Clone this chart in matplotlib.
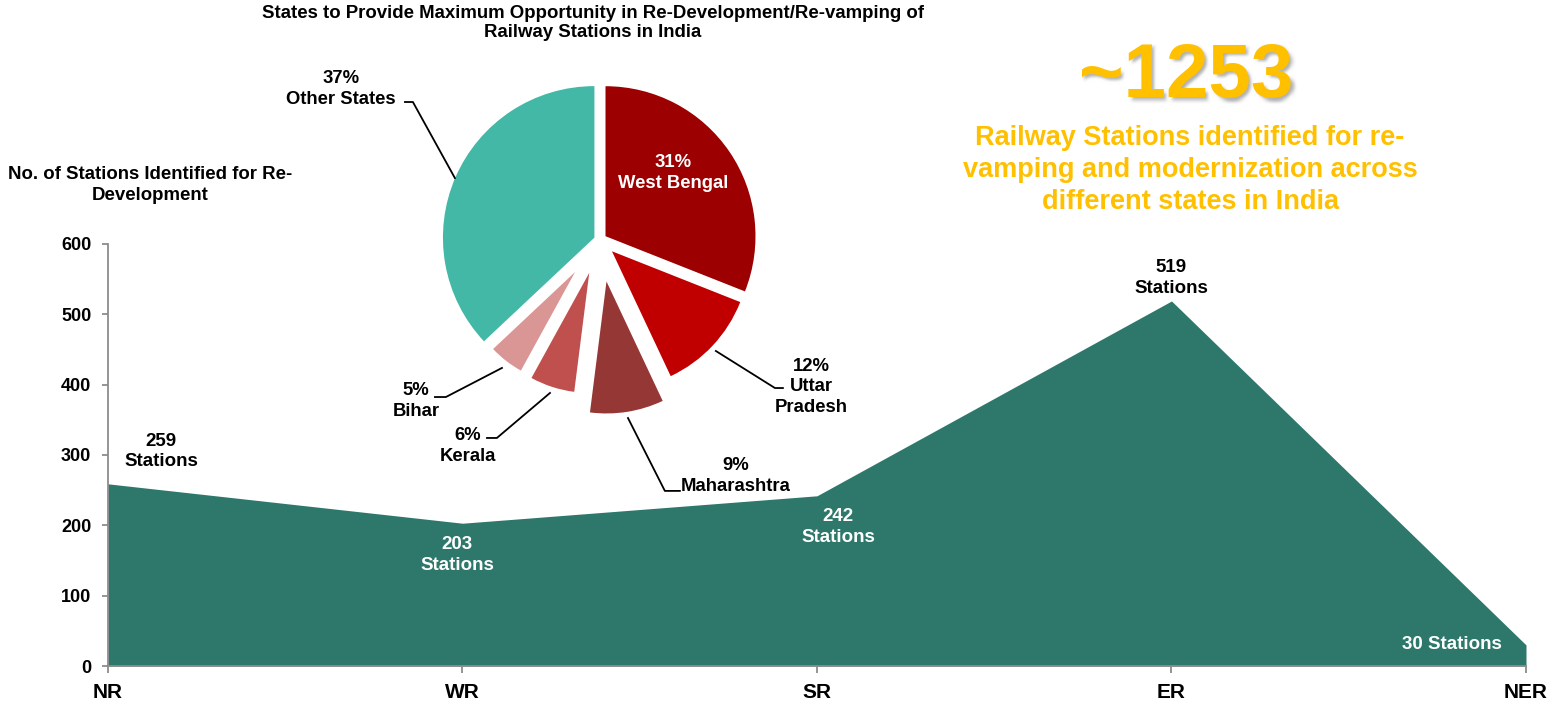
import numpy as np
import matplotlib
matplotlib.use("Agg")
import matplotlib.pyplot as plt

plt.rcParams["font.family"] = ["Liberation Sans", "DejaVu Sans"]
plt.rcParams["font.weight"] = "bold"

# zone-wise station counts
zones = ["NR", "WR", "SR", "ER", "NER"]
stations = [259, 203, 242, 519, 30]
y_ticks = [0, 100, 200, 300, 400, 500, 600]

# state share of stations (%)
states = ["West Bengal", "Uttar\nPradesh", "Maharashtra", "Kerala", "Bihar", "Other States"]
shares = [31, 12, 9, 6, 5, 37]
pie_colors = ["#9C0000", "#C00000", "#953735", "#C0504D", "#D99694", "#43B8A6"]

total = sum(stations)

AREA = "#2D786B"
GOLD = "#FFC000"
GREY = "#8C8C8C"


def soft_shadow(im, dpi):
    """blur the rendered text and push it down-right"""
    pad = 10
    a = np.pad(im, ((pad, pad), (pad, pad), (0, 0)), mode="constant")
    r = np.arange(-6, 7)
    k = np.exp(-r ** 2 / (2 * 1.8 ** 2))
    k /= k.sum()
    a = np.apply_along_axis(lambda m: np.convolve(m, k, mode="same"), 0, a)
    a = np.apply_along_axis(lambda m: np.convolve(m, k, mode="same"), 1, a)
    a[..., 3] *= 0.55
    return a, -pad + 3, -pad - 3


fig = plt.figure(figsize=(15.51, 7.07), dpi=100)

# ---- area chart ----
ax = fig.add_axes([0.06963, 0.05799, 0.91425, 0.5969])
x = np.arange(len(zones))
ax.fill_between(x, stations, 0, color=AREA, linewidth=0)
ax.set_xlim(0, len(zones) - 1)
ax.set_ylim(0, 600)
ax.set_xticks(x)
ax.set_xticklabels(zones, fontsize=15, fontweight="bold")
ax.set_yticks(y_ticks)
ax.set_yticklabels([str(t) for t in y_ticks], fontsize=13, fontweight="bold")
for s in ["top", "right"]:
    ax.spines[s].set_visible(False)
for s in ["left", "bottom"]:
    ax.spines[s].set_color(GREY)
    ax.spines[s].set_linewidth(1.3)
ax.tick_params(axis="x", colors=GREY, length=5, width=1.3, pad=7, labelcolor="black")
ax.tick_params(axis="y", colors=GREY, length=4, width=1.3, pad=8, labelcolor="black")
ax.set_facecolor("none")

# value labels: (x position, vertical offset, colour)
lab_pos = [(0.15, 46, "black"), (0.985, -45, "white"), (2.06, -44, "white"),
           (3.0, 33, "black"), (3.79, 0, "white")]
for (lx, dy, c), v in zip(lab_pos, stations):
    txt = f"{v}\nStations" if v > 100 else f"{v} Stations"
    ax.text(lx, v + dy, txt, ha="center", va="center", fontsize=13.5,
            fontweight="bold", color=c, linespacing=1.3)

# axis caption
fig.text(150 / 1551, 1 - 185 / 707, "No. of Stations Identified for Re-\nDevelopment",
         ha="center", va="center", fontsize=13.4, fontweight="bold", linespacing=1.25)

# ---- pie ----
pax = fig.add_axes([0.1934, 0.2362, 0.3868, 0.8487])
explode = [0.045, 0.11, 0.28, 0.23, 0.27, 0.04]
radii = [1.0, 0.92, 0.88, 0.80, 0.75, 1.01]
wedges, _ = pax.pie(shares, colors=pie_colors, startangle=90, counterclock=False,
                    explode=explode, wedgeprops=dict(linewidth=0))
for w, r in zip(wedges, radii):
    w.set_radius(r)
pax.set_xlim(-2, 2)
pax.set_ylim(-2, 2)
pax.set_aspect("equal")
pax.axis("off")

# label text position and leader line for each slice
pie_labels = {
    "West Bengal": ((0.487, 0.447), None, "white"),
    "Uttar\nPradesh": ((1.407, -0.98), [(0.773, -0.74), (1.167, -0.987), (1.22, -0.987)], "black"),
    "Maharashtra": ((0.907, -1.573), [(0.187, -1.187), (0.433, -1.673), (0.533, -1.673)], "black"),
    "Kerala": ((-0.88, -1.373), [(-0.333, -1.02), (-0.687, -1.32), (-0.753, -1.32)], "black"),
    "Bihar": ((-1.227, -1.073), [(-0.653, -0.853), (-1.027, -1.047), (-1.1, -1.047)], "black"),
    "Other States": ((-1.727, 1.007), [(-0.967, 0.413), (-1.247, 0.92), (-1.30, 0.92)], "black"),
}
for name, pct in zip(states, shares):
    (tx, ty), line, c = pie_labels[name]
    pax.text(tx, ty, f"{pct}%\n{name}", ha="center", va="center", fontsize=13.3,
             fontweight="bold", color=c, linespacing=1.3)
    if line:
        lx, ly = zip(*line)
        pax.plot(lx, ly, color="black", lw=1.3, clip_on=False)

fig.text(593 / 1551, 1 - 23 / 707,
         "States to Provide Maximum Opportunity in Re-Development/Re-vamping of\nRailway Stations in India",
         ha="center", va="center", fontsize=13.4, fontweight="bold", linespacing=1.15)

# ---- headline figure ----
hx, hy = 1186 / 1551, 1 - 78 / 707
shadow = fig.text(hx, hy, f"~{total}", ha="center", va="center",
                  fontsize=55, fontweight="bold", color="#6E6E6E")
shadow.set_agg_filter(soft_shadow)
fig.text(hx, hy, f"~{total}", ha="center", va="center",
         fontsize=55, fontweight="bold", color=GOLD)
fig.text(1190 / 1551, 1 - 170 / 707,
         "Railway Stations identified for re-\nvamping and modernization across\ndifferent states in India",
         ha="center", va="center", fontsize=19.5, fontweight="bold", color=GOLD, linespacing=1.28)

fig.savefig("out.png", dpi=100, facecolor="white")
